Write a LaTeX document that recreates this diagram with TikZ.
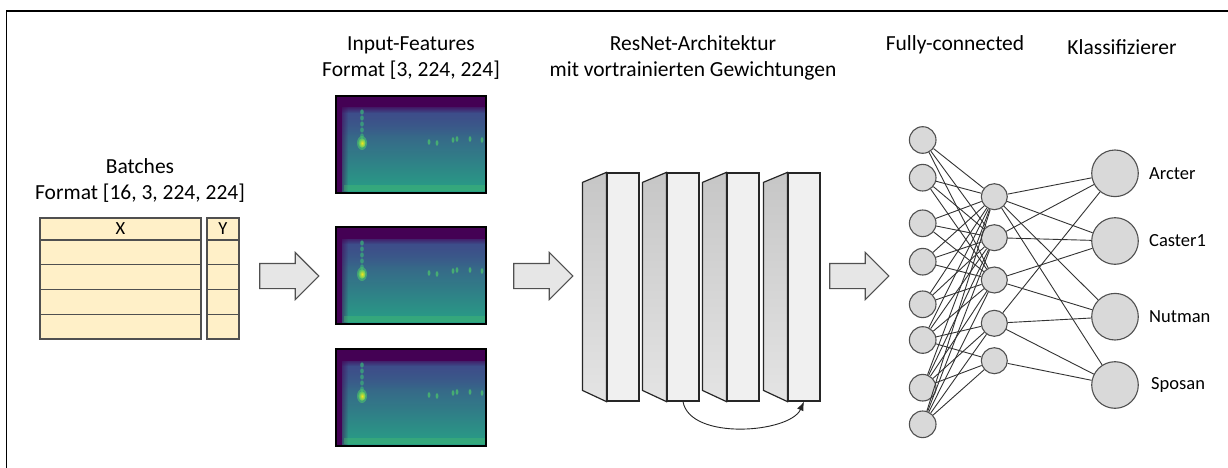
\documentclass[tikz,border=0pt]{standalone}
\usepackage{fontspec}
\setmainfont{Carlito}
\usetikzlibrary{shapes.arrows,arrows.meta,fadings}

\definecolor{tableyellow}{HTML}{FFF0C8}
\definecolor{linegray}{HTML}{505050}
\definecolor{nodegray}{HTML}{D9D9D9}
\definecolor{arrowfill}{HTML}{E6E6E6}
\definecolor{frontgray}{HTML}{F0F0F0}
\definecolor{sidetop}{HTML}{C6C6C6}
\definecolor{sidebot}{HTML}{E4E4E4}
% viridis-like spectrogram colours
\definecolor{vdark}{HTML}{440154}
\definecolor{vpurple}{HTML}{3E4C8A}
\definecolor{vteal}{HTML}{2A848E}
\definecolor{vgreen}{HTML}{27A085}
\definecolor{vlight}{HTML}{4CC26C}
\definecolor{vyellow}{HTML}{F2E51D}

\tikzset{
  lbl/.style={font=\fontsize{21.5}{26}\selectfont, align=center, inner sep=0pt},
  classlbl/.style={font=\fontsize{18.5}{22}\selectfont, anchor=west, inner sep=0pt},
  cell/.style={draw=linegray, fill=tableyellow, line width=1.1pt, inner sep=0pt,
               font=\fontsize{18.5}{22}\selectfont},
  bigarrow/.style={shape=single arrow, draw=linegray, fill=arrowfill, line width=1.1pt,
                   minimum height=59pt, single arrow head extend=11pt,
                   single arrow head indent=0pt, inner sep=0pt},
  specframe/.style={draw=black, line width=1.2pt, minimum width=150pt, minimum height=97pt,
                    inner sep=0pt},
  front/.style={draw=black!85, fill=frontgray, line width=1.2pt, minimum width=32pt,
                minimum height=228pt, inner sep=0pt},
  side/.style={draw=black!85, line width=1.2pt, top color=sidetop, bottom color=sidebot},
  neuron/.style={circle, draw=linegray, fill=nodegray, line width=1.1pt, inner sep=0pt,
                 minimum size=#1},
  link/.style={draw=black!80, line width=0.9pt},
}

% spectrogram image: name, centre x, centre y
\newcommand\spectro[3]{%
  \begin{scope}[shift={(#2-75,#3-48.5)}]
    \fill[vdark] (0,0) rectangle (150,97);
    \shade[top color=vpurple, middle color=vteal, bottom color=vgreen] (6,12) rectangle (150,97);
    \fill[vpurple, path fading=south, opacity=0.8] (6,12) rectangle (150,40);
    \fill[vdark, path fading=south] (0,8) rectangle (150,17);
    \fill[vdark, path fading=east] (0,8) rectangle (12,97);
    \fill[vlight, opacity=0.35] (8,89) rectangle (150,95);
    \foreach \yy in {16,22,28,34,40}
      \fill[vteal!50!vlight, opacity=0.85] (26,\yy) ellipse [x radius=1.8pt, y radius=2.6pt];
    \fill[vlight, opacity=0.6] (26,47) ellipse [x radius=5pt, y radius=7pt];
    \shade[inner color=vyellow, outer color=vlight] (26,47) ellipse [x radius=3.6pt, y radius=4.8pt];
    \foreach \xx/\yy in {93/46,101/47,117/44,121/43,134/43,146/44}
      \fill[vlight, opacity=0.75] (\xx,\yy) ellipse [x radius=1.4pt, y radius=2.8pt];
  \end{scope}
  \node[specframe] (#1) at (#2,#3) {};}

\begin{document}
\begin{tikzpicture}[x=1pt, y=-1pt]
  \useasboundingbox (0,0) rectangle (1228,468);
  \clip (0,0) rectangle (1228,468);
  \fill[white] (0,0) rectangle (1228,468);
  % outer frame
  \draw[line width=1.6pt] (6.5,11) rectangle (1240,480);

  % ---- batches table ----
  \node[lbl] (batches) at (140,180) {Batches\\Format [16, 3, 224, 224]};
  \node[cell, minimum width=161pt, minimum height=22pt] (xh) at (120.5,229) {X};
  \node[cell, minimum width=32pt, minimum height=22pt] (yh) at (223,229) {Y};
  \foreach \n/\c in {1/252.4,2/277.1,3/301.9,4/326.6} {
    \node[cell, minimum width=161pt, minimum height=24.7pt] (x\n) at (120.5,\c) {};
    \node[cell, minimum width=32pt, minimum height=24.7pt] (y\n) at (223,\c) {};
  }

  \node[bigarrow] (arr1) at (283,276) {\rule{0pt}{24pt}};

  % ---- input features ----
  \node[lbl] (inp) at (411,58) {Input-Features\\Format [3, 224, 224]};
  \spectro{s1}{411}{144.5}
  \spectro{s2}{411}{275.5}
  \spectro{s3}{411}{397.5}

  \node[bigarrow] (arr2) at (537,276) {\rule{0pt}{24pt}};

  % ---- ResNet blocks ----
  \node[lbl] (resnet) at (693,58) {ResNet-Architektur\\mit vortrainierten Gewichtungen};
  \foreach \n/\cx in {1/623,2/683,3/743,4/804} {
    \node[front] (b\n) at (\cx,287) {};
    \draw[side] (b\n.north west) -- ++(-24,10) -- ++(0,208) -- (b\n.south west) -- cycle;
  }
  \draw[black!85, line width=0.9pt, -{Latex[length=9pt,width=7pt]}]
    (b2.south) .. controls (690,441) and (790,433) .. (b4.south);

  \node[bigarrow] (arr3) at (853,276) {\rule{0pt}{24pt}};

  % ---- fully connected network ----
  \node[lbl] (fc) at (955,45) {Fully-connected};
  \node[lbl] (cls) at (1122,47) {Klassifizierer};

  \foreach \n/\cy in {1/140,2/177.7,3/223.3,4/261.7,5/304.3,6/340,7/387.7,8/424.3}
    \node[neuron=26.6pt] (i\n) at (922.7,\cy) {};
  \foreach \n/\cy in {1/196.7,2/237.7,3/280,4/323.3,5/360.7}
    \node[neuron=26pt] (h\n) at (994.3,\cy) {};
  \foreach \n/\cy in {1/173.3,2/241,3/316.7,4/385}
    \node[neuron=46.6pt] (o\n) at (1115,\cy) {};

  \foreach \a/\b in {1/1,1/2,1/3, 2/1,2/2,2/3, 3/1,3/2,3/3, 4/1,4/2,4/3, 5/1,5/2,5/3,
                     6/1,6/2,6/3,6/4,6/5, 7/1,7/2,7/3,7/4,7/5, 8/1,8/2,8/3,8/4,8/5}
    \draw[link] (i\a) -- (h\b);
  \foreach \a/\b in {1/1,1/2,1/3,1/4, 2/1,2/2, 3/2,3/3, 4/1,4/3,4/4, 5/4}
    \draw[link] (h\a) -- (o\b);

  \node[classlbl] (l1) at (1149,173.3) {Arcter};
  \node[classlbl] (l2) at (1149,241) {Caster1};
  \node[classlbl] (l3) at (1149,316.7) {Nutman};
  \node[classlbl] (l4) at (1151,385) {Sposan};
\end{tikzpicture}
\end{document}
